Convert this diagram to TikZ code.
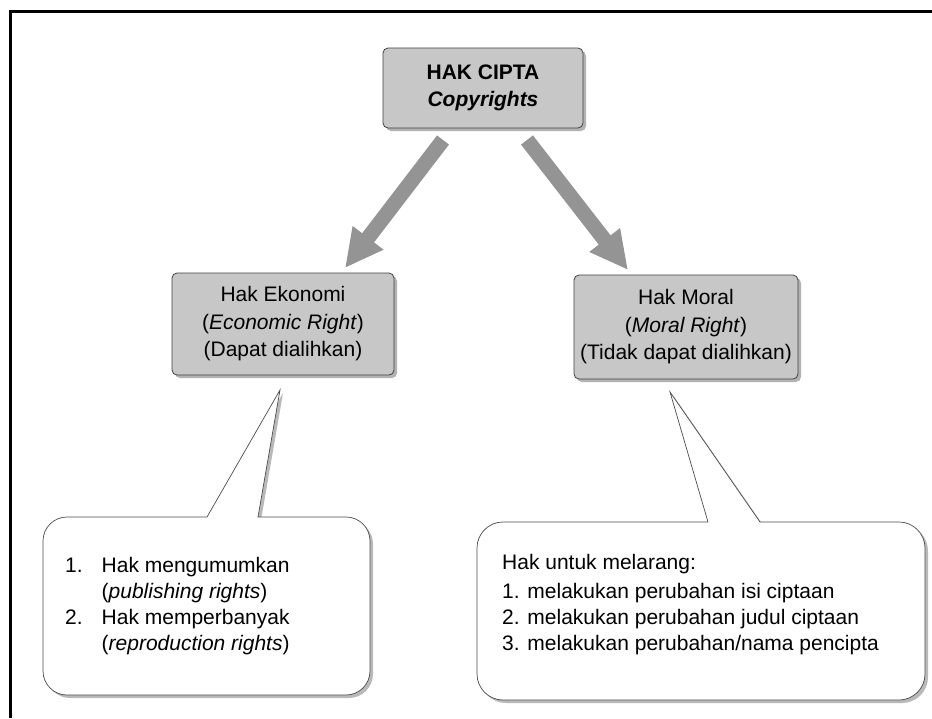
\documentclass[tikz,border=0pt]{standalone}
\usepackage{fontspec}
\setmainfont{Liberation Sans}
\usetikzlibrary{arrows.meta, shadows}

\begin{document}
\begin{tikzpicture}[x=1pt, y=1pt,
  box/.style={draw=black!75, line width=0.8pt, fill=black!22, rounded corners=5pt,
    align=center, inner sep=0pt, font=\fontsize{21}{27.5}\selectfont,
    drop shadow={shadow xshift=3pt, shadow yshift=-3pt, fill=black!60}},
  bigarrow/.style={draw=black!42, line width=15pt, -{Triangle[length=38pt, width=36pt]}},
  callout/.style={draw=black!70, line width=0.7pt, fill=white,
    drop shadow={shadow xshift=3pt, shadow yshift=-3pt, fill=black!55}},
  listtext/.style={anchor=west, inner sep=0pt, font=\fontsize{21}{26}\selectfont}]
  \useasboundingbox (0,0) rectangle (932,-718);

  % frame
  \draw[line width=3pt] (10,-718) -- (10,-11) -- (932,-11);

  \node[box, minimum width=200pt, minimum height=80pt] (cipta) at (483,-88)
    {\textbf{HAK CIPTA}\\\textbf{\textit{Copyrights}}};
  \node[box, minimum width=222pt, minimum height=102pt] (ekonomi) at (283,-324)
    {Hak Ekonomi\\(\textit{Economic Right})\\(Dapat dialihkan)};
  \node[box, minimum width=224pt, minimum height=104pt] (moral) at (686,-327)
    {Hak Moral\\(\textit{Moral Right})\\(Tidak dapat dialihkan)};

  \coordinate (L0) at (443,-140);
  \coordinate (L1) at (345,-268);
  \coordinate (R0) at (527,-140);
  \coordinate (R1) at (628,-270);
  \draw[bigarrow] (L0) -- (L1);
  \draw[bigarrow] (R0) -- (R1);

  % callouts
  \coordinate (EkTip) at (280,-390);
  \coordinate (MoTip) at (670,-392);
  \draw[callout] (207,-517) -- (67,-517) arc[start angle=90, end angle=180, radius=24pt]
    -- (43,-671) arc[start angle=180, end angle=270, radius=24pt]
    -- (346,-695) arc[start angle=270, end angle=360, radius=24pt]
    -- (370,-541) arc[start angle=0, end angle=90, radius=24pt]
    -- (258,-517) -- (EkTip) -- cycle;
  \draw[callout] (708,-522) -- (503,-522) arc[start angle=90, end angle=180, radius=26pt]
    -- (477,-674) arc[start angle=180, end angle=270, radius=26pt]
    -- (899,-700) arc[start angle=270, end angle=360, radius=26pt]
    -- (925,-548) arc[start angle=0, end angle=90, radius=26pt]
    -- (760,-522) -- (MoTip) -- cycle;

  \node[listtext] (ekolist) at (65,-606) {\begin{tabular}{@{}l@{\hspace{19pt}}l@{}}
    1. & Hak mengumumkan\\
       & (\textit{publishing rights})\\
    2. & Hak memperbanyak\\
       & (\textit{reproduction rights})
  \end{tabular}};
  \node[listtext] (molist) at (502,-605) {\begin{tabular}{@{}l@{}}
    Hak untuk melarang:\\[3pt]
    1. melakukan perubahan isi ciptaan\\
    2. melakukan perubahan judul ciptaan\\
    3. melakukan perubahan/nama pencipta
  \end{tabular}};
\end{tikzpicture}
\end{document}
